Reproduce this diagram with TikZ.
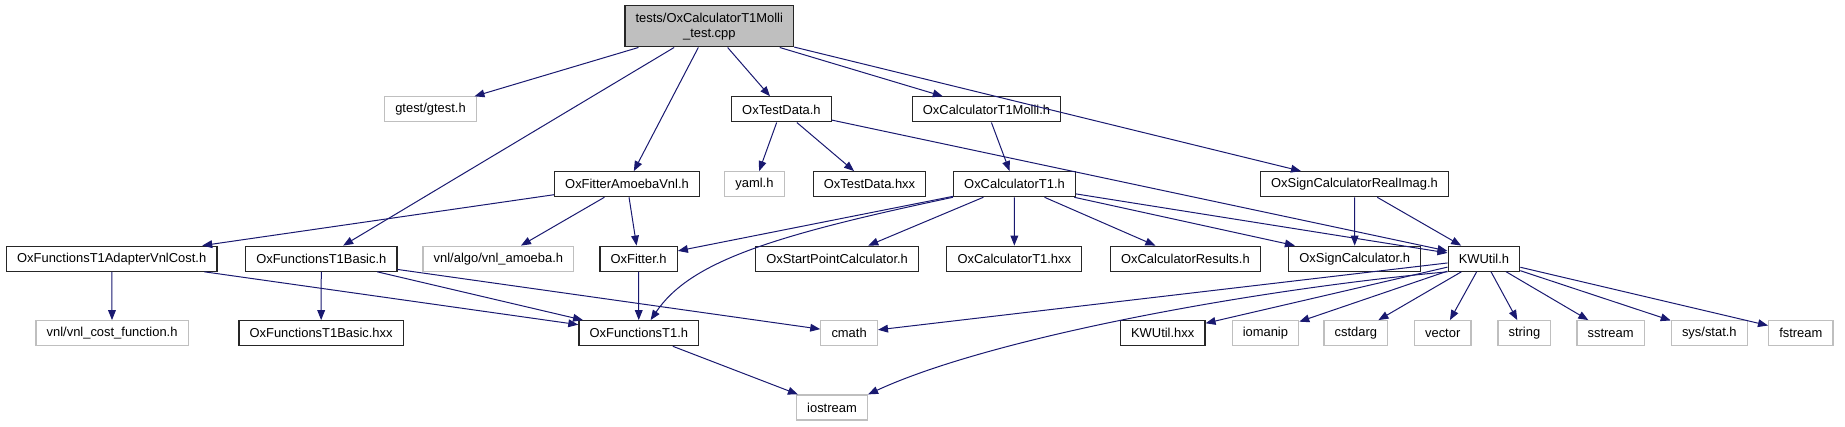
\documentclass[tikz,border=0pt]{standalone}
\usepackage{fontspec}
\setmainfont{Liberation Sans}
\usetikzlibrary{arrows.meta}
\definecolor{edgeblue}{HTML}{191970}
\definecolor{boxgray}{HTML}{BFBFBF}
\begin{document}
\begin{tikzpicture}[x=0.75pt,y=-0.75pt,
  every node/.style={rectangle,inner xsep=8pt,inner ysep=0pt,minimum height=18.75pt,
    font=\fontsize{9.7}{11.6}\selectfont},
  hdr/.style={draw=black!85,line width=0.9pt,fill=white},
  sys/.style={draw=boxgray,line width=0.9pt,fill=white},
  src/.style={draw=black!85,line width=0.9pt,fill=boxgray,align=center,minimum height=30.75pt},
  inc/.style={-{Triangle[length=7.5pt,width=5.8pt]},draw=edgeblue,line width=0.75pt}]
  \useasboundingbox (0,0) rectangle (1845,427);

  % Archivo fuente
  \node[src] (main) at (709.3, 26.4) {tests/OxCalculatorT1Molli\\\_test.cpp};

  % Nivel 1
  \node[sys] (gtest) at (430.5, 109.4) {gtest/gtest.h};
  \node[hdr] (tdata) at (781.4, 109.4) {OxTestData.h};
  \node[hdr] (molli) at (986.5, 109.4) {OxCalculatorT1Molli.h};

  % Nivel 2
  \node[hdr] (fitamo) at (627.0, 184.2) {OxFitterAmoebaVnl.h};
  \node[sys] (yaml) at (754.4, 184.2) {yaml.h};
  \node[hdr] (tdhxx) at (869.5, 184.2) {OxTestData.hxx};
  \node[hdr] (calc) at (1014.5, 184.2) {OxCalculatorT1.h};
  \node[hdr] (signri) at (1354.5, 184.2) {OxSignCalculatorRealImag.h};

  % Nivel 3
  \node[hdr] (adapt) at (111.7, 258.7) {OxFunctionsT1AdapterVnlCost.h};
  \node[hdr] (basic) at (321.3, 258.7) {OxFunctionsT1Basic.h};
  \node[sys] (amoeba) at (498.4, 258.7) {vnl/algo/vnl\_amoeba.h};
  \node[hdr] (fitter) at (638.6, 258.7) {OxFitter.h};
  \node[hdr] (start) at (837.1, 258.7) {OxStartPointCalculator.h};
  \node[hdr] (calchxx) at (1014.3, 258.7) {OxCalculatorT1.hxx};
  \node[hdr] (results) at (1185.4, 258.7) {OxCalculatorResults.h};
  \node[hdr] (sign) at (1354.7, 258.7) {OxSignCalculator.h};
  \node[hdr] (kwutil) at (1483.9, 258.7) {KWUtil.h};

  % Nivel 4
  \node[sys] (costfn) at (112.1, 333.2) {vnl/vnl\_cost\_function.h};
  \node[hdr] (basichxx) at (321.1, 333.2) {OxFunctionsT1Basic.hxx};
  \node[hdr] (funT1) at (638.8, 333.2) {OxFunctionsT1.h};
  \node[sys] (cmath) at (849.1, 333.2) {cmath};
  \node[hdr] (kwhxx) at (1162.7, 333.2) {KWUtil.hxx};
  \node[sys] (iomanip) at (1265.4, 333.2) {iomanip};
  \node[sys] (cstdarg) at (1355.9, 333.2) {cstdarg};
  \node[sys] (vector) at (1442.7, 333.2) {vector};
  \node[sys] (string) at (1524.4, 333.2) {string};
  \node[sys] (sstream) at (1610.6, 333.2) {sstream};
  \node[sys] (sysstat) at (1709.3, 333.2) {sys/stat.h};
  \node[sys] (fstream) at (1800.8, 333.2) {fstream};

  % Nivel 5
  \node[sys] (iostream) at (832.0, 407.5) {iostream};

  % Includes
  \foreach \from/\to in {main/gtest, main/basic, main/fitamo, main/tdata, main/molli, main/signri,
      tdata/yaml, tdata/tdhxx, tdata/kwutil, molli/calc,
      fitamo/adapt, fitamo/amoeba, fitamo/fitter,
      calc/fitter, calc/start, calc/calchxx, calc/results, calc/sign, calc/kwutil,
      signri/sign, signri/kwutil,
      adapt/costfn, adapt/funT1, basic/basichxx, basic/funT1, basic/cmath, fitter/funT1,
      kwutil/cmath, kwutil/kwhxx, kwutil/iomanip, kwutil/cstdarg, kwutil/vector,
      kwutil/string, kwutil/sstream, kwutil/sysstat, kwutil/fstream,
      funT1/iostream}
    \draw[inc] (\from) -- (\to);

  % Includes curvos
  \draw[inc] (calc.south west) .. controls (770,236) and (690,262) .. (funT1.48);
  \draw[inc] (kwutil.south west) .. controls (1250,290) and (990,338) .. (iostream.north east);
\end{tikzpicture}
\end{document}
